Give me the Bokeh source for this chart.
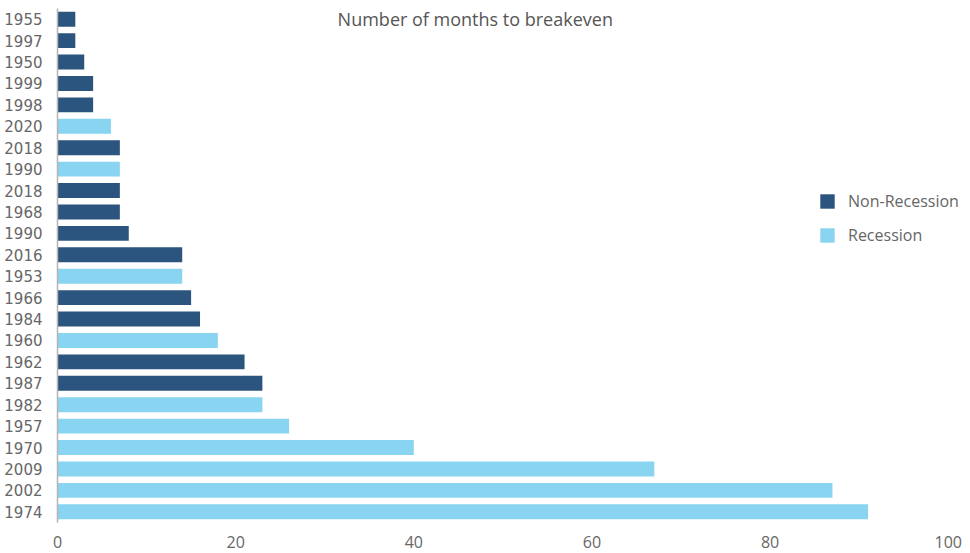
from bokeh.plotting import figure
from bokeh.models import ColumnDataSource, Range1d, FixedTicker, Label
from bokeh.transform import factor_cmap
from bokeh.embed import file_html
from bokeh.resources import INLINE

years = ["1955", "1997", "1950", "1999", "1998", "2020", "2018", "1990", "2018", "1968",
         "1990", "2016", "1953", "1966", "1984", "1960", "1962", "1987", "1982", "1957",
         "1970", "2009", "2002", "1974"]
months = [2, 2, 3, 4, 4, 6, 7, 7, 7, 7,
          8, 14, 14, 15, 16, 18, 21, 23, 23, 26,
          40, 67, 87, 91]
kinds = ["Non-Recession", "Non-Recession", "Non-Recession", "Non-Recession", "Non-Recession",
         "Recession", "Non-Recession", "Recession", "Non-Recession", "Non-Recession",
         "Non-Recession", "Non-Recession", "Recession", "Non-Recession", "Non-Recession",
         "Recession", "Non-Recession", "Non-Recession", "Recession", "Recession",
         "Recession", "Recession", "Recession", "Recession"]
kind_names = ["Non-Recession", "Recession"]
kind_colors = ["#2B547E", "#89D4F0"]
x_ticks = [0, 20, 40, 60, 80, 100]
title_text = "Number of months to breakeven"

pos = list(range(len(years)))
src = ColumnDataSource(dict(pos=pos, months=months, kind=kinds, year=years))

p = figure(width=962, height=553, output_backend="svg", toolbar_location=None,
           x_range=Range1d(0, 101.6), y_range=Range1d(len(years) - 0.5, -0.5),
           min_border_left=57, min_border_right=0, min_border_top=8, min_border_bottom=31)

p.hbar(y="pos", right="months", left=0, height=0.7, source=src,
       fill_color=factor_cmap("kind", kind_colors, kind_names), line_color=None,
       legend_group="kind")

p.xgrid.visible = False
p.ygrid.visible = False
p.outline_line_color = None
p.background_fill_color = "white"
p.border_fill_color = "white"

# y axis
p.yaxis.ticker = FixedTicker(ticks=pos)
p.yaxis.major_label_overrides = {i: y for i, y in zip(pos, years)}
p.yaxis.major_tick_line_color = None
p.yaxis.minor_tick_line_color = None
p.yaxis.axis_line_color = "#b5b5b5"
p.yaxis.axis_line_width = 1.5
p.yaxis.major_label_text_font = "DejaVu Sans"
p.yaxis.major_label_text_font_size = "15px"
p.yaxis.major_label_text_color = "#666666"
p.yaxis.major_label_standoff = 9

# x axis
p.xaxis.ticker = FixedTicker(ticks=x_ticks)
p.xaxis.axis_line_color = None
p.xaxis.major_tick_line_color = None
p.xaxis.minor_tick_line_color = None
p.xaxis.major_label_text_font = "Open Sans"
p.xaxis.major_label_text_font_size = "16px"
p.xaxis.major_label_text_color = "#666666"
p.xaxis.major_label_standoff = 7

# title inside plot
p.add_layout(Label(x=46.9, y=0, text=title_text, text_align="center", text_baseline="middle",
                   text_font="Open Sans", text_font_size="18px", text_color="#555555"))

# legend
lg = p.legend[0]
lg.location = (761, 276)
lg.orientation = "vertical"
lg.border_line_color = None
lg.background_fill_alpha = 0
lg.padding = 0
lg.margin = 0
lg.glyph_width = 18
lg.glyph_height = 18
lg.label_standoff = 12
lg.spacing = 12
lg.label_text_font = "Open Sans"
lg.label_text_font_size = "16px"
lg.label_text_color = "#666666"

open("out.html", "w").write(file_html(p, INLINE))
